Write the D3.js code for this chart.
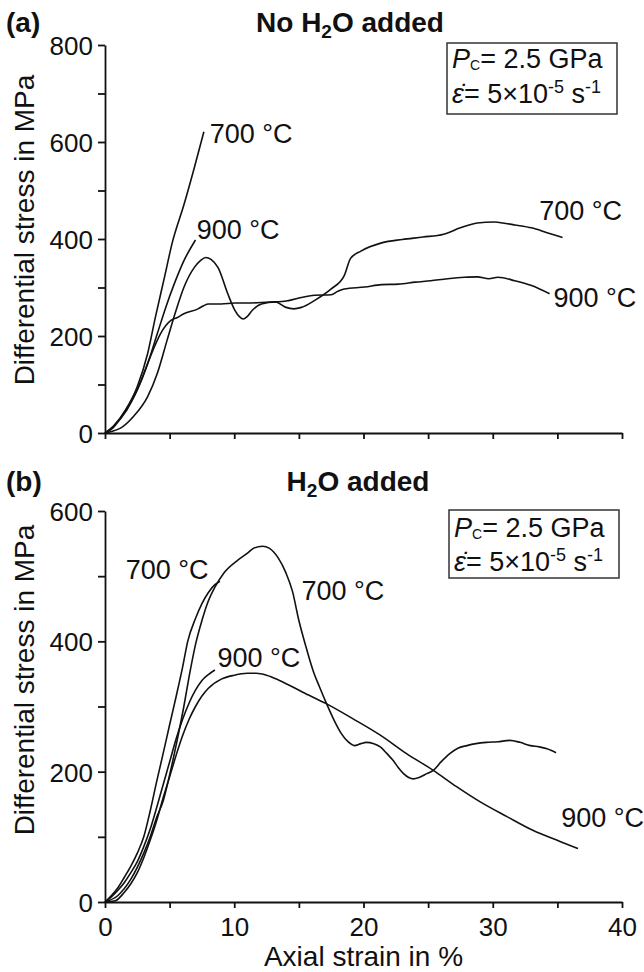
<!DOCTYPE html>
<html>
<head>
<meta charset="utf-8">
<script src="https://cdn.jsdelivr.net/npm/d3@7"></script>
<style>
  body { margin: 0; background: #fff; }
  svg { font-family: "Liberation Sans", Arial, sans-serif; }
  .axis path, .axis line { stroke: #111; stroke-width: 1.8; }
  .axis text { font-size: 26px; fill: #111; }
  .curve { fill: none; stroke: #111; stroke-width: 1.6; }
</style>
</head>
<body>
<script>
// ---- data: [axial strain %, differential stress MPa] ----
// (a) no H2O added
var a700short = [[0,0],[0.65,14],[1.6,48],[2.5,96],[3.3,164],[3.9,239],[4.6,321],[5.2,392],[6.1,470],[6.9,546],[7.65,621]];
var a900short = [[0,0],[0.6,10],[1.4,38],[2.5,89],[3.3,143],[4.05,205],[4.7,259],[5.35,307],[6.1,355],[7.0,398]];
var a700long = [[0,0],[0.5,3],[1.2,10],[2.2,34],[3.3,75],[4.05,123],[4.8,191],[5.5,253],[6.1,300],[6.9,341],[7.4,356],[7.8,362],
  [8.2,358],[8.75,341],[9.5,287],[10.05,253],[10.4,240],[10.7,235],[11.0,240],[11.4,253],[12.1,266],[13.2,270],[14.0,259],
  [14.6,256],[15.2,259],[16.2,273],[17.5,297],[18.5,324],[19.0,360],[19.8,375],[21.4,392],[23.0,399],[24.6,404],[26.2,410],
  [27.5,423],[28.8,433],[30.1,435],[31.0,432],[31.7,429],[33.0,423],[34.2,413],[35.4,403]];
var a900long = [[0,0],[0.65,14],[1.7,48],[2.7,102],[3.5,157],[4.3,205],[5.1,232],[5.6,238],[6.1,246],[7.2,256],[7.6,262],
  [8.0,266],[9,266],[10.05,268],[11,268],[12.7,270],[13.7,271],[14.2,273],[15.3,280],[16.2,284],[17.5,285],[18.0,292],
  [18.5,297],[20.1,301],[21.4,306],[22.7,307],[24.0,311],[25.2,314],[26.5,318],[27.8,321],[28.8,322],[29.7,318],[30.4,321],
  [31.7,314],[33.0,304],[34.4,287]];

// (b) H2O added
var b700short = [[0,0],[0.5,10],[1,22],[1.5,38],[2,55],[2.5,75],[3,100],[3.5,140],[4,185],[4.5,228],[5,272],[5.5,315],
  [6,360],[6.4,400],[7,435],[7.5,458],[8,475],[8.5,487],[8.9,492]];
var b900short = [[0,0],[0.5,8],[1,18],[1.5,30],[2,45],[2.5,62],[3,85],[3.5,112],[4,145],[4.5,180],[5,215],[5.5,250],
  [6,280],[6.5,305],[7,325],[7.5,340],[8,349],[8.5,356]];
var b700long = [[0,0],[1,10],[2,35],[3,75],[3.5,100],[4,130],[4.5,155],[5,195],[5.6,250],[6.1,300],[6.5,345],[7,395],
  [7.5,432],[7.9,457],[8.5,483],[9.2,505],[10.3,525],[11,535],[11.5,543],[12.2,546],[12.7,543],[13.4,528],[14,505],
  [14.5,477],[15,432],[15.5,395],[16.1,355],[16.6,330],[17.15,304],[17.7,280],[18.3,258],[18.8,246],[19.3,240],[19.8,243],
  [20.2,245],[20.8,243],[21.3,238],[21.8,228],[22.3,217],[22.7,206],[23.1,197],[23.5,191],[23.85,189],[24.3,191],[24.9,197],
  [25.4,202],[26,215],[26.7,228],[27.3,236],[28,240],[28.7,243],[29.5,245],[30.4,246],[31.3,248],[32.1,245],[32.9,240],
  [33.6,238],[34.2,235],[34.9,229]];
var b900long = [[0,0],[0.8,2],[1.5,15],[2,28],[2.5,45],[3,68],[3.5,95],[4,125],[4.5,160],[5,192],[5.5,225],[6,255],
  [6.5,280],[7,300],[7.5,316],[8,328],[9,342],[10,348],[11,351],[11.7,351],[12.5,348],[13.5,340],[15.3,322],[17.15,304],
  [19.2,281],[21.3,256],[23.3,228],[25.4,202],[27.2,177],[29.0,154],[31.1,131],[33.1,110],[35.2,93],[36.6,82]];

// curve labels: [strain, stress, text]
var labelsA = [[8.1,598,"700 °C"],[7.1,400,"900 °C"],[33.6,439,"700 °C"],[34.7,260,"900 °C"]];
var labelsB = [[1.6,495,"700 °C"],[8.7,360,"900 °C"],[15.2,464,"700 °C"],[35.3,115,"900 °C"]];

var xTicks = [0,5,10,15,20,25,30,35,40];
var xTickLabels = [0,10,20,30,40];
var yTicksA = [0,100,200,300,400,500,600,700,800];
var yTicksB = [0,100,200,300,400,500,600];

var w = 644, h = 972;
var svg = d3.select("body").append("svg").attr("width", w).attr("height", h);

var x = d3.scaleLinear().domain([0, 40]).range([105, 622]);
var yA = d3.scaleLinear().domain([0, 800]).range([433, 45]);
var yB = d3.scaleLinear().domain([0, 600]).range([902, 511]);

function drawPanel(y, yTicks, curves, labels, showXLabels, labelY) {
  var g = svg.append("g");

  // x axis
  var xAxis = d3.axisBottom(x).tickValues(xTicks).tickSize(6).tickSizeOuter(0)
    .tickFormat(function(d) { return (showXLabels && xTickLabels.indexOf(d) >= 0) ? d : ""; });
  g.append("g").attr("class", "axis")
    .attr("transform", "translate(0," + y(0) + ")")
    .call(xAxis)
    .call(function(s) { s.selectAll("text").attr("dy", "0.95em"); });

  // y axis
  var yAxis = d3.axisLeft(y).tickValues(yTicks).tickSize(7).tickSizeOuter(0)
    .tickFormat(function(d) { return d % 200 === 0 ? d : ""; });
  g.append("g").attr("class", "axis")
    .attr("transform", "translate(" + x(0) + ",0)")
    .call(yAxis)
    .call(function(s) { s.selectAll("text").attr("x", -12).attr("dy", "0.36em"); });

  g.selectAll(".axis .domain").attr("stroke-width", 2);

  var line = d3.line()
    .x(function(d) { return x(d[0]); })
    .y(function(d) { return y(d[1]); })
    .curve(d3.curveMonotoneX);

  g.selectAll("path.curve").data(curves).enter().append("path")
    .attr("class", "curve")
    .attr("d", line);

  g.selectAll("text.lab").data(labels).enter().append("text")
    .attr("class", "lab")
    .attr("x", function(d) { return x(d[0]); })
    .attr("y", function(d) { return y(d[1]); })
    .attr("font-size", 27)
    .attr("fill", "#111")
    .text(function(d) { return d[2]; });

  // y axis title
  g.append("text")
    .attr("transform", "translate(34," + labelY + ") rotate(-90)")
    .attr("text-anchor", "middle")
    .attr("font-size", 28)
    .attr("fill", "#111")
    .text("Differential stress in MPa");
}

function conditionsBox(left, top, hgt, base1, base2) {
  var g = svg.append("g").attr("transform", "translate(" + left + "," + top + ")");
  g.append("rect").attr("width", 170).attr("height", hgt)
    .attr("fill", "#fff").attr("stroke", "#333").attr("stroke-width", 1.5);
  var t1 = g.append("text").attr("x", 5).attr("y", base1).attr("font-size", 27).attr("fill", "#111");
  t1.append("tspan").attr("font-style", "italic").text("P");
  t1.append("tspan").attr("font-size", 14).attr("dy", 2).text("C");
  t1.append("tspan").attr("dy", -2).text("= 2.5 GPa");
  var t2 = g.append("text").attr("x", 5).attr("y", base2).attr("font-size", 27).attr("fill", "#111");
  t2.append("tspan").attr("font-style", "italic").text("\u03B5\u0307");
  t2.append("tspan").text("= 5\u00D710");
  t2.append("tspan").attr("font-size", 18).attr("dy", -10).text("-5");
  t2.append("tspan").attr("dy", 10).text(" s");
  t2.append("tspan").attr("font-size", 18).attr("dy", -10).text("-1");
}

function title(letter, cx, base, withNo) {
  svg.append("text").attr("x", 6).attr("y", base)
    .attr("font-size", 28).attr("font-weight", "bold").attr("fill", "#111").text(letter);
  var t = svg.append("text").attr("x", cx).attr("y", base).attr("text-anchor", "middle")
    .attr("font-size", 28).attr("font-weight", "bold").attr("fill", "#111");
  t.append("tspan").text(withNo ? "No H" : "H");
  t.append("tspan").attr("font-size", 19).attr("dy", 6).text("2");
  t.append("tspan").attr("dy", -6).text("O added");
}

// (a)
drawPanel(yA, yTicksA, [a700short, a900short, a700long, a900long], labelsA, false, 230);
conditionsBox(447, 43, 71, 25, 60);
title("(a)", 350, 32, true);

// (b)
drawPanel(yB, yTicksB, [b700short, b900short, b700long, b900long], labelsB, true, 680);
conditionsBox(449, 510, 68, 27, 61);
title("(b)", 358, 491, false);

// x axis title
svg.append("text").attr("x", x(20)).attr("y", 966).attr("text-anchor", "middle")
  .attr("font-size", 28).attr("fill", "#111").text("Axial strain in %");
</script>
</body>
</html>
